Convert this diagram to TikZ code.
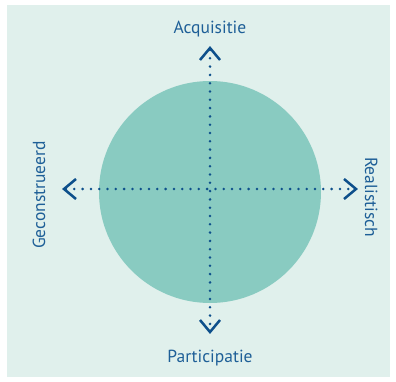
\documentclass[tikz,border=0pt]{standalone}
\usepackage{fontspec}
\setmainfont{PT Sans}
\definecolor{bgc}{HTML}{E0F0EC}
\definecolor{circc}{HTML}{89CBC1}
\definecolor{linec}{HTML}{0D4F8B}
\definecolor{txtc}{HTML}{1E5F97}
\tikzset{
  lbl/.style={text=txtc, font=\fontsize{17.5}{20}\selectfont, inner sep=0pt},
  axis/.style={draw=linec, line width=2.8pt, line cap=round, dash pattern=on 0pt off 8.3pt},
  chev/.style={draw=linec, line width=2.5pt, line cap=butt, line join=miter}
}
\begin{document}
\begin{tikzpicture}[x=1pt,y=-1pt]
\useasboundingbox (0,0) rectangle (396,382);
\fill[bgc] (7,5) rectangle (390,377);
\node[circle, fill=circc, minimum size=222pt, inner sep=0pt] (c) at (210,192) {};
\coordinate (t) at (210,50);
\coordinate (b) at (210,330);
\coordinate (l) at (66,189);
\coordinate (r) at (354,189);
\draw[axis] (t) -- (b);
\draw[axis] (l) -- (r);
\draw[chev] ([xshift=-10pt,yshift=-10pt]t) -- ([yshift=2pt]t) -- ([xshift=10pt,yshift=-10pt]t);
\draw[chev] ([xshift=-10pt,yshift=10pt]b) -- ([yshift=-2pt]b) -- ([xshift=10pt,yshift=10pt]b);
\draw[chev] ([xshift=10pt,yshift=-10pt]l) -- ([xshift=-2pt]l) -- ([xshift=10pt,yshift=10pt]l);
\draw[chev] ([xshift=-10pt,yshift=-10pt]r) -- ([xshift=2pt]r) -- ([xshift=-10pt,yshift=10pt]r);
\node[lbl, anchor=base] (acq) at (210,34) {Acquisitie};
\node[lbl, anchor=base] (par) at (210,362) {Participatie};
\node[lbl, anchor=base, rotate=90] (geo) at (45,195) {Geconstrueerd};
\node[lbl, anchor=base, rotate=-90] (rea) at (365,197) {Realistisch};
\end{tikzpicture}
\end{document}
